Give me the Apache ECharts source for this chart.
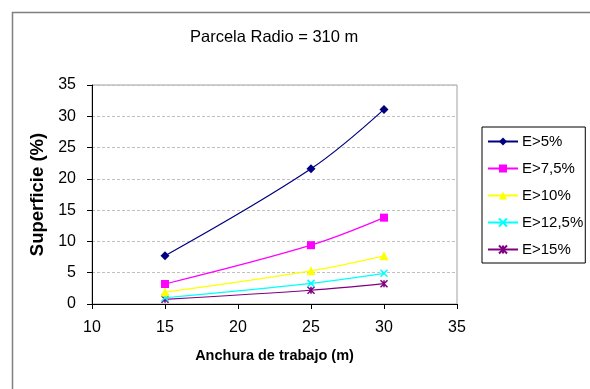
<!DOCTYPE html>
<html>
<head>
<meta charset="utf-8">
<script src="https://cdn.jsdelivr.net/npm/echarts@6/dist/echarts.min.js"></script>
<style>html,body{margin:0;padding:0;background:#fff}#c{width:590px;height:389px}</style>
</head>
<body>
<div id="c"></div>
<script>
const xValues = [15, 25, 30];
const seriesNames = ['E>5%', 'E>7,5%', 'E>10%', 'E>12,5%', 'E>15%'];
const e5 = [7.7, 21.6, 31.1];
const e75 = [3.2, 9.4, 13.8];
const e10 = [1.9, 5.3, 7.7];
const e125 = [1.0, 3.3, 4.9];
const e15 = [0.75, 2.2, 3.25];
const xTicks = [10, 15, 20, 25, 30, 35];
const yTicks = [0, 5, 10, 15, 20, 25, 30, 35];

const allData = [e5, e75, e10, e125, e15];
const colors = ['#000080', '#FF00FF', '#FFFF00', '#00FFFF', '#800080'];
const symbols = ['diamond', 'rect', 'triangle',
  'path://M0,0L10,10M10,0L0,10',
  'path://M0,0L10,10M10,0L0,10M5,0L5,10'];
const sizes = [9, 8, 9, 7, 7];

const chart = echarts.init(document.getElementById('c'), null, {renderer: 'canvas'});
const series = allData.map((d, i) => ({
  name: seriesNames[i],
  type: 'line',
  data: xValues.map((x, j) => [x, d[j]]),
  smooth: 0.35,
  symbol: symbols[i],
  symbolSize: sizes[i],
  showAllSymbol: true,
  lineStyle: {color: colors[i], width: 1.2},
  itemStyle: i >= 3 ? {color: colors[i], borderColor: colors[i], borderWidth: 1.5} : {color: colors[i], borderWidth: 0},
  emphasis: {disabled: true},
  z: 10 - i
}));

chart.setOption({
  animation: false,
  backgroundColor: '#fff',
  graphic: [{
    type: 'rect', left: 10, top: 10,
    shape: {width: 600, height: 400},
    style: {fill: 'none', stroke: '#7f7f7f', lineWidth: 1.5},
    z: -1
  }],
  title: {
    text: 'Parcela Radio = 310 m',
    left: 185, top: 24,
    textStyle: {fontFamily: 'Liberation Sans, Arial', fontSize: 16.5, fontWeight: 'normal', color: '#000'}
  },
  grid: {left: 92, right: 133, top: 85, bottom: 85, show: true, borderColor: '#a0a0a0', borderWidth: 1, containLabel: false},
  legend: {
    orient: 'vertical', left: 482, top: 127,
    itemWidth: 30, itemHeight: 10, itemGap: 12,
    padding: [7, 2, 6, 5],
    borderColor: '#000', borderWidth: 1,
    textStyle: {fontFamily: 'Liberation Sans, Arial', fontSize: 15, color: '#000', padding: [0, 0, 0, -1]},
    data: seriesNames
  },
  xAxis: {
    type: 'value', min: 10, max: 35, interval: 5,
    name: 'Anchura de trabajo (m)', nameLocation: 'middle', nameGap: 44,
    nameTextStyle: {fontFamily: 'Liberation Sans, Arial', fontSize: 14.5, fontWeight: 'bold', color: '#000'},
    axisLine: {show: true, lineStyle: {color: '#000', width: 1}},
    axisTick: {show: true, length: 5, lineStyle: {color: '#000'}},
    axisLabel: {fontFamily: 'Liberation Sans, Arial', fontSize: 16, color: '#000', margin: 16,
      customValues: xTicks},
    splitLine: {show: false}
  },
  yAxis: {
    type: 'value', min: 0, max: 35, interval: 5,
    name: 'Superficie (%)', nameLocation: 'middle', nameGap: 42,
    nameTextStyle: {fontFamily: 'Liberation Sans, Arial', fontSize: 18.5, fontWeight: 'bold', color: '#000'},
    axisLine: {show: true, lineStyle: {color: '#000', width: 1}},
    axisTick: {show: true, length: 5, lineStyle: {color: '#000'}},
    axisLabel: {fontFamily: 'Liberation Sans, Arial', fontSize: 16, color: '#000', margin: 16},
    splitLine: {show: true, lineStyle: {color: '#c0c0c0', type: [3, 2], width: 1}}
  },
  series: series
});
</script>
</body>
</html>
